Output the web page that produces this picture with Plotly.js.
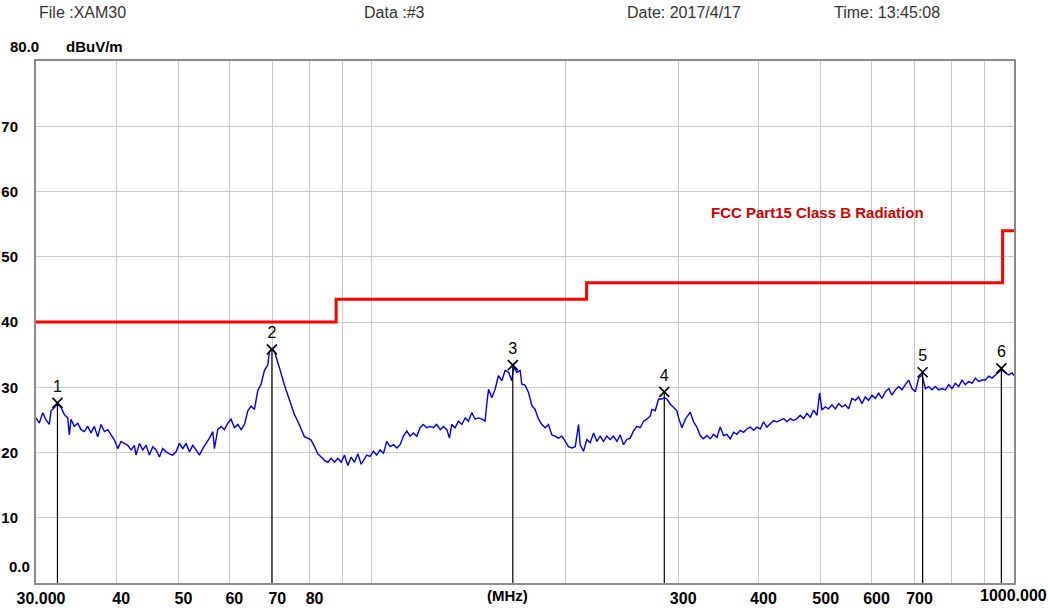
<!DOCTYPE html>
<html>
<head>
<meta charset="utf-8">
<script src="https://cdn.plot.ly/plotly-3.0.1.min.js"></script>
<style>
html,body{margin:0;padding:0;background:#fff;}
#chart{width:1049px;height:608px;}
</style>
</head>
<body>
<div id="chart"></div>
<script>
// ---- measured spectrum (MHz, dBuV/m) ----
const freqMHz = [
30.00,30.36,30.73,31.10,31.47,31.66,32.04,32.42,32.81,33.21,33.61,
33.81,34.01,34.42,34.84,35.25,35.68,36.11,36.54,36.98,37.43,37.88,
38.34,38.80,39.27,39.74,40.22,40.70,41.19,41.68,42.19,42.69,
42.95,43.47,43.99,44.52,45.05,45.60,46.14,46.70,47.26,47.83,
48.40,48.98,49.57,50.17,50.77,51.38,52.00,52.62,53.26,53.90,
54.55,55.21,55.87,56.54,56.88,57.56,58.26,58.96,59.67,60.38,61.11,
61.85,62.59,63.35,64.11,64.88,65.66,66.45,67.25,68.06,68.87,
69.29,69.96,70.54,71.39,72.25,73.12,74.00,74.89,75.79,76.70,77.62,
78.56,79.50,80.46,81.43,82.41,83.40,84.40,85.42,86.44,87.48,
88.54,89.60,90.68,91.77,92.87,93.99,95.12,96.27,97.42,
98.21,99.39,100.6,101.8,103.0,104.3,105.5,106.8,
108.1,109.4,110.7,112.0,113.4,114.7,116.1,117.5,118.9,120.3,
121.8,123.3,124.7,126.2,127.8,129.3,130.9,132.1,133.2,134.8,136.4,
138.1,139.8,141.4,143.1,144.9,146.6,148.4,150.1,151.0,152.0,153.8,
155.6,157.5,159.4,161.3,163.3,165.2,166.2,168.2,170.2,171.2,173.3,
175.4,177.5,179.6,181.8,184.0,186.2,188.4,190.7,193.0,195.3,
197.7,200.1,202.5,204.9,207.4,209.9,211.1,213.6,216.2,218.8,
221.5,224.1,226.8,229.5,232.3,235.1,237.9,240.8,243.7,246.6,
249.6,252.6,255.6,258.7,261.8,265.0,268.1,271.4,273.0,276.3,279.6,
283.0,285.4,288.1,291.6,295.1,298.6,300.4,304.0,307.7,311.4,
313.2,317.0,320.8,324.6,328.5,332.5,336.5,
340.5,344.6,348.8,353.0,357.2,361.5,365.9,370.3,374.7,379.2,
383.8,388.4,393.1,397.8,402.6,407.4,412.3,417.3,422.3,427.4,
432.6,437.8,443.0,448.3,453.7,459.2,464.7,470.3,476.0,481.7,
487.5,493.4,498.1,502.3,508.3,514.4,520.6,526.9,533.2,539.6,546.1,
552.7,559.4,566.1,572.9,579.8,586.7,593.8,601.0,608.2,615.5,
622.9,630.4,638.0,645.7,653.4,661.3,669.2,677.3,685.4,693.7,
702.0,710.5,719.0,727.7,736.4,745.3,754.2,763.3,772.5,781.8,
791.2,800.7,810.3,820.1,830.0,839.9,850.0,860.3,870.6,881.1,
891.7,902.4,913.3,924.3,935.4,946.6,955.7,969.5,981.2,993.0,1000
];
const levelDbuv = [
25.3,24.5,26.1,25.0,24.3,26.4,26.9,27.4,26.9,25.8,25.3,
22.7,25.1,24.0,24.5,23.5,23.2,24.0,23.0,24.0,22.4,24.3,
23.2,23.5,22.7,21.9,20.6,21.7,21.4,21.1,20.4,21.1,
19.6,21.4,20.4,21.1,19.6,20.9,20.4,19.3,20.6,20.1,
19.8,19.6,20.1,21.4,20.6,21.4,20.1,21.1,20.4,19.6,
20.6,21.4,22.2,23.2,20.6,23.5,24.0,23.5,24.5,25.1,23.8,
24.3,23.5,24.3,26.4,27.1,26.6,29.5,30.5,32.6,33.4,
35.5,35.9,35.5,33.9,32.1,30.3,28.7,27.1,25.8,24.8,23.5,
22.4,22.2,21.9,20.9,19.8,19.3,18.8,18.5,19.1,18.5,
19.1,18.5,19.6,18.0,19.3,18.5,19.8,18.2,19.1,
19.6,19.4,20.2,19.6,20.4,19.9,21.7,20.9,
21.2,20.7,21.2,22.5,23.3,22.5,23.0,22.5,23.8,24.3,
23.8,24.0,23.8,24.3,23.5,24.0,23.5,22.2,24.3,23.8,24.8,
24.3,25.3,24.8,26.1,25.1,25.3,25.1,24.8,27.4,29.7,28.4,
29.7,31.8,31.0,32.6,32.3,31.0,33.1,32.3,32.6,30.5,30.3,
29.2,27.2,26.6,25.1,24.3,23.8,24.3,22.7,22.5,22.2,
22.5,21.7,20.9,20.7,20.9,24.3,21.2,20.2,22.0,21.5,
23.0,21.7,22.5,21.7,22.5,22.0,22.5,21.7,22.7,21.2,
22.0,22.2,23.3,24.0,23.8,24.8,25.1,25.6,26.6,26.4,28.2,
28.2,28.4,28.2,27.4,26.9,26.4,25.3,23.8,25.1,25.9,
26.2,24.7,23.9,22.6,22.1,22.6,22.1,
22.8,22.3,23.9,22.6,22.8,22.1,23.1,22.8,23.4,23.1,
23.6,23.9,23.4,23.9,23.6,24.7,23.9,24.4,24.9,24.7,
24.9,25.2,24.7,25.2,24.9,25.2,25.7,25.2,26.0,25.4,
26.5,25.7,29.1,26.5,27.0,26.7,27.3,26.7,27.5,27.0,27.3,
26.7,28.3,28.0,28.5,27.5,28.5,28.0,28.8,28.3,29.1,
28.3,29.3,29.8,28.8,29.6,30.1,29.6,30.4,31.1,29.8,
29.3,31.4,31.9,29.8,30.1,29.6,30.1,29.6,29.8,29.6,
30.4,29.8,30.6,30.1,31.1,30.4,30.9,30.6,31.4,30.9,
31.1,31.1,31.7,31.4,31.9,32.4,32.7,32.2,31.9,32.2,31.8
];

// ---- limit line: FCC Part15 Class B ----
const limitFreq  = [30, 88, 216, 960, 1000];
const limitLevel = [40, 43.5, 46, 54, 54];
const limitName  = 'FCC Part15 Class B Radiation';

// ---- markers ----
const markerNo    = ['1','2','3','4','5','6'];
const markerFreq  = [32.4, 69.9, 165.8, 285.4, 720.7, 955.7];
const markerLevel = [27.6, 35.8, 33.4, 29.3, 32.3, 32.9];

// ---- axis ticks ----
const xTickVals = [30,40,50,60,70,80,90,100,200,300,400,500,600,700,800,900,1000];
const xTickText = ['30.000','40','50','60','70','80','','','','300','400','500','600','700','','',''];
const xEndLabel = '1000.000';
const yTickVals = [10,20,30,40,50,60,70];
const yTickText = ['10','20','30','40','50','60','70'];
const yTopLabel = '80.0';
const yBottomLabel = '0.0';
const yUnit = 'dBuV/m';
const xUnit = '(MHz)';

// ---- header ----
const headerText = ['File :XAM30', 'Data :#3', 'Date: 2017/4/17', 'Time: 13:45:08'];
const headerPos = [0.001, 0.333, 0.602, 0.814];

// stems under markers
const stemX = [], stemY = [];
markerFreq.forEach((f, i) => { stemX.push(f, f, null); stemY.push(markerLevel[i], 0, null); });

const FAM = 'Liberation Sans, Arial, sans-serif';
const boldFont = {family: FAM, size: 15, color: '#000', weight: 'bold'};

const traces = [
  {x: freqMHz, y: levelDbuv, type: 'scatter', mode: 'lines',
   line: {color: '#0000d8', width: 1.4}, hoverinfo: 'x+y'},
  {x: limitFreq, y: limitLevel, type: 'scatter', mode: 'lines',
   line: {color: '#ff0000', width: 3, shape: 'hv'}, name: limitName},
  {x: stemX, y: stemY, type: 'scatter', mode: 'lines',
   line: {color: '#000', width: 1.2}, hoverinfo: 'skip'},
  {x: markerFreq, y: markerLevel, type: 'scatter', mode: 'markers+text',
   text: markerNo, textposition: 'top center',
   textfont: {family: FAM, size: 16, color: '#000'},
   marker: {symbol: 'x-thin-open', size: 10, color: '#000', line: {color: '#000', width: 1.6}}}
];

const annotations = [];
headerText.forEach((t, i) => annotations.push({
  text: t, xref: 'paper', yref: 'paper', x: headerPos[i], y: 1.092,
  xanchor: 'left', yanchor: 'middle', showarrow: false,
  font: {family: FAM, size: 16, color: '#333'}
}));
annotations.push({text: yTopLabel, xref: 'paper', yref: 'paper', x: -0.0286, y: 1.0287,
  xanchor: 'left', yanchor: 'middle', showarrow: false, font: boldFont});
annotations.push({text: yUnit, xref: 'paper', yref: 'paper', x: 0.0286, y: 1.0287,
  xanchor: 'left', yanchor: 'middle', showarrow: false, font: boldFont});
annotations.push({text: yBottomLabel, xref: 'paper', yref: 'paper', x: -0.004, y: 0.0307,
  xanchor: 'right', yanchor: 'middle', showarrow: false, font: boldFont});
annotations.push({text: xUnit, xref: 'paper', yref: 'paper', x: 0.4816, y: -0.023,
  xanchor: 'center', yanchor: 'middle', showarrow: false, font: boldFont});
annotations.push({text: xEndLabel, xref: 'paper', yref: 'paper', x: 0.9995, y: -0.023,
  xanchor: 'center', yanchor: 'middle', showarrow: false, font: {family: FAM, size: 16, color: '#000', weight: 'bold'}});
annotations.push({text: limitName, xref: 'paper', yref: 'paper', x: 0.688, y: 0.709,
  xanchor: 'left', yanchor: 'middle', showarrow: false,
  font: {family: FAM, size: 15, color: '#cc0000', weight: 'bold'}});

const layout = {
  width: 1049, height: 608,
  margin: {l: 36, r: 35, t: 61, b: 25, pad: 0},
  paper_bgcolor: '#fff', plot_bgcolor: '#fff',
  showlegend: false,
  xaxis: {
    type: 'log', range: [Math.log10(30), Math.log10(1000)],
    tickmode: 'array', tickvals: xTickVals, ticktext: xTickText,
    showgrid: true, gridcolor: '#c8c8c8', gridwidth: 1,
    showline: true, mirror: true, linecolor: '#8a8a8a', linewidth: 2,
    ticks: '', ticklabelshift: 5, zeroline: false,
    tickfont: {family: FAM, size: 16, color: '#000', weight: 'bold'}
  },
  yaxis: {
    range: [0, 80],
    tickmode: 'array', tickvals: yTickVals, ticktext: yTickText,
    showgrid: true, gridcolor: '#c8c8c8', gridwidth: 1,
    showline: true, mirror: true, linecolor: '#8a8a8a', linewidth: 2,
    ticks: '', ticklabelstandoff: 13, zeroline: false,
    tickfont: boldFont
  },
  annotations: annotations
};

Plotly.newPlot('chart', traces, layout, {displayModeBar: false, staticPlot: true});
</script>
</body>
</html>
